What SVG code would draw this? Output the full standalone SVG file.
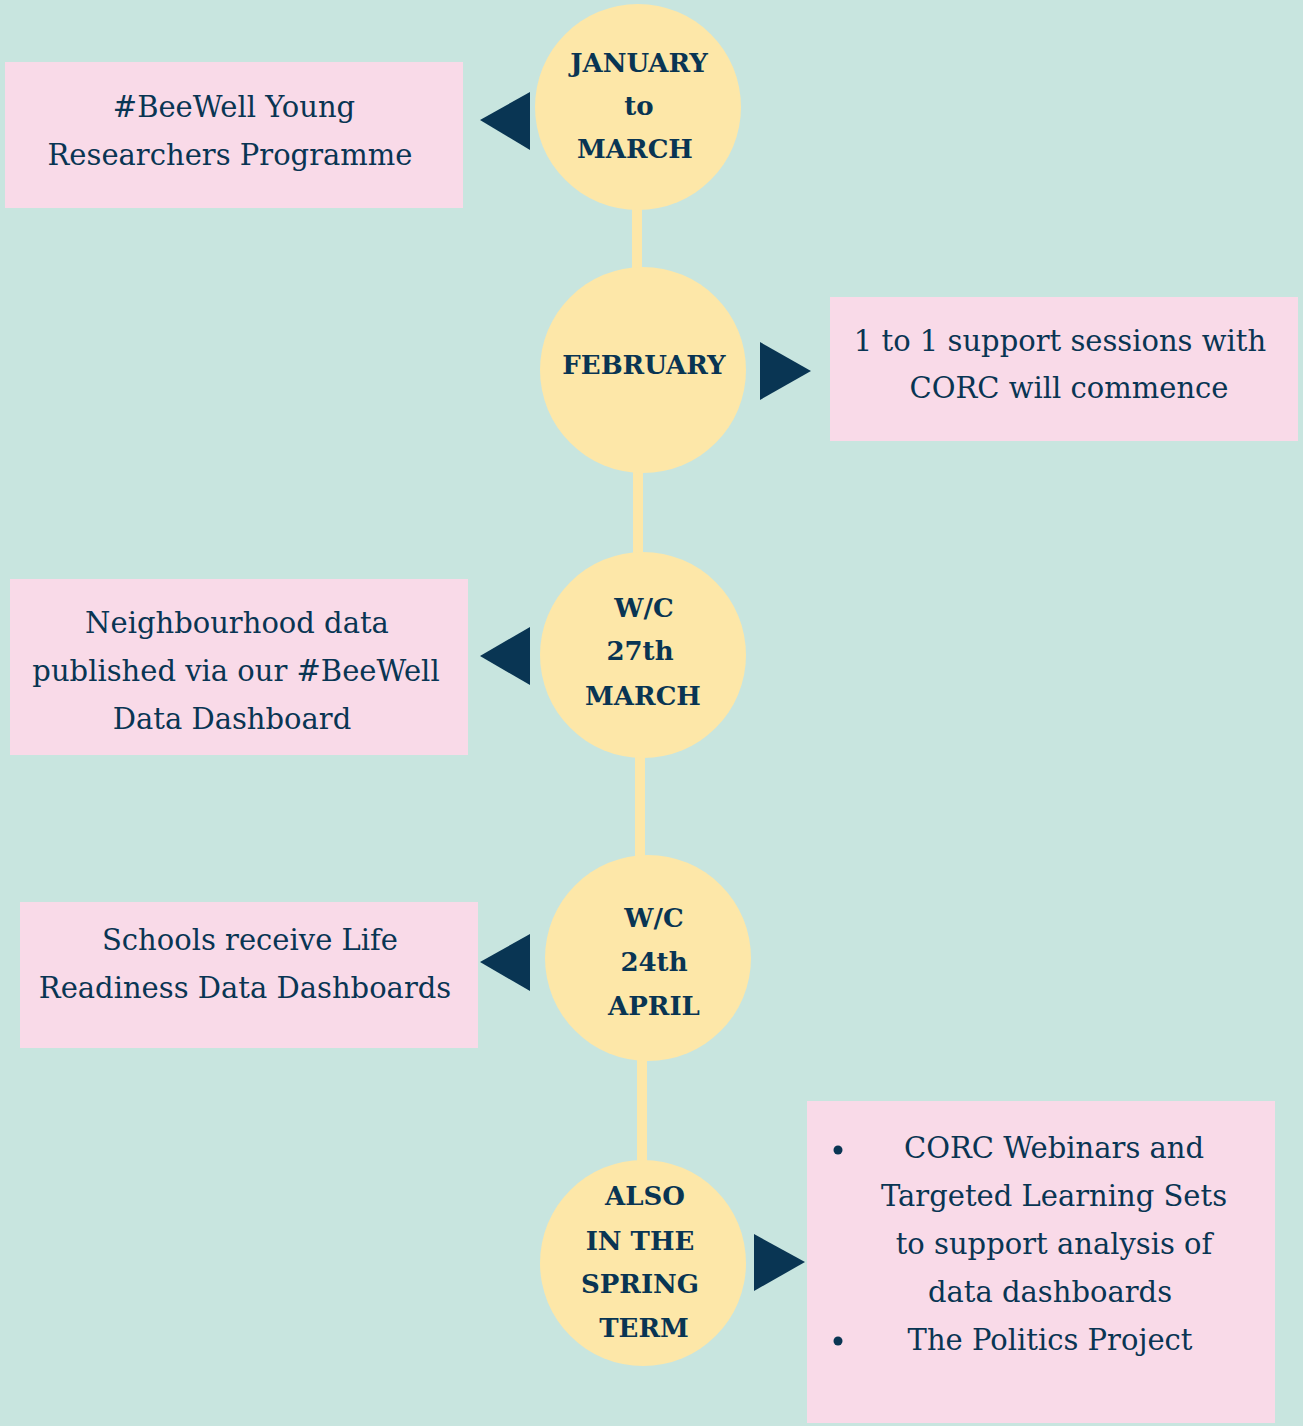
<svg xmlns="http://www.w3.org/2000/svg" width="1303" height="1426" viewBox="0 0 1303 1426">
<style>
.bg{fill:#C8E5DF}
.circ{fill:#FDE7A8}
.box{fill:#F9DAE8}
.tri{fill:#093553}
.line{stroke:#FDE7A8;stroke-width:10;fill:none}
.t{font-family:"DejaVu Serif","Liberation Serif",serif;font-size:29px;fill:#093553;text-anchor:middle}
.c{font-family:"DejaVu Serif","Liberation Serif",serif;font-size:26px;font-weight:bold;fill:#093553;text-anchor:middle}
</style>
<rect class="bg" x="0" y="0" width="1303" height="1426"/>
<g id="connectors">
<line class="line" x1="637" y1="200" x2="637" y2="275"/>
<line class="line" x1="638" y1="465" x2="638" y2="560"/>
<line class="line" x1="640" y1="750" x2="640" y2="862"/>
<line class="line" x1="642" y1="1052" x2="642" y2="1168"/>
<polygon class="tri" points="480,120 530,92 530,150"/>
<polygon class="tri" points="811,371 760,342 760,400"/>
<polygon class="tri" points="480,656 530,627 530,685"/>
<polygon class="tri" points="480,962 530,934 530,991"/>
<polygon class="tri" points="805,1262 754,1234 754,1291"/>
</g>
<g id="n1">
<circle class="circ" cx="638" cy="107" r="103"/>
<text class="c" x="639" y="72">JANUARY</text>
<text class="c" x="639" y="115">to</text>
<text class="c" x="635" y="158">MARCH</text>
</g>
<g id="b1">
<rect class="box" x="5" y="62" width="458" height="146"/>
<text class="t" x="234" y="117">#BeeWell Young</text>
<text class="t" x="230" y="165">Researchers Programme</text>
</g>
<g id="n2">
<circle class="circ" cx="643" cy="370" r="103"/>
<text class="c" x="644" y="374">FEBRUARY</text>
</g>
<g id="b2">
<rect class="box" x="830" y="297" width="468" height="144"/>
<text class="t" x="1060" y="351">1 to 1 support sessions with</text>
<text class="t" x="1069" y="398">CORC will commence</text>
</g>
<g id="n3">
<circle class="circ" cx="643" cy="655" r="103"/>
<text class="c" x="644" y="617">W/C</text>
<text class="c" x="640" y="660">27th</text>
<text class="c" x="643" y="705">MARCH</text>
</g>
<g id="b3">
<rect class="box" x="10" y="579" width="458" height="176"/>
<text class="t" x="237" y="633">Neighbourhood data</text>
<text class="t" x="236" y="681">published via our #BeeWell</text>
<text class="t" x="232" y="729">Data Dashboard</text>
</g>
<g id="n4">
<circle class="circ" cx="648" cy="958" r="103"/>
<text class="c" x="654" y="927">W/C</text>
<text class="c" x="654" y="971">24th</text>
<text class="c" x="654" y="1015">APRIL</text>
</g>
<g id="b4">
<rect class="box" x="20" y="902" width="458" height="146"/>
<text class="t" x="250" y="950">Schools receive Life</text>
<text class="t" x="245" y="998">Readiness Data Dashboards</text>
</g>
<g id="n5">
<circle class="circ" cx="643" cy="1263" r="103"/>
<text class="c" x="645" y="1205">ALSO</text>
<text class="c" x="640" y="1250">IN THE</text>
<text class="c" x="640" y="1293">SPRING</text>
<text class="c" x="644" y="1337">TERM</text>
</g>
<g id="b5">
<rect class="box" x="807" y="1101" width="468" height="322"/>
<circle cx="838" cy="1150" r="4.5" fill="#093553"/>
<circle cx="838" cy="1341" r="4.5" fill="#093553"/>
<text class="t" x="1054" y="1158">CORC Webinars and</text>
<text class="t" x="1054" y="1206">Targeted Learning Sets</text>
<text class="t" x="1054" y="1254">to support analysis of</text>
<text class="t" x="1050" y="1302">data dashboards</text>
<text class="t" x="1050" y="1350">The Politics Project</text>
</g>
</svg>
